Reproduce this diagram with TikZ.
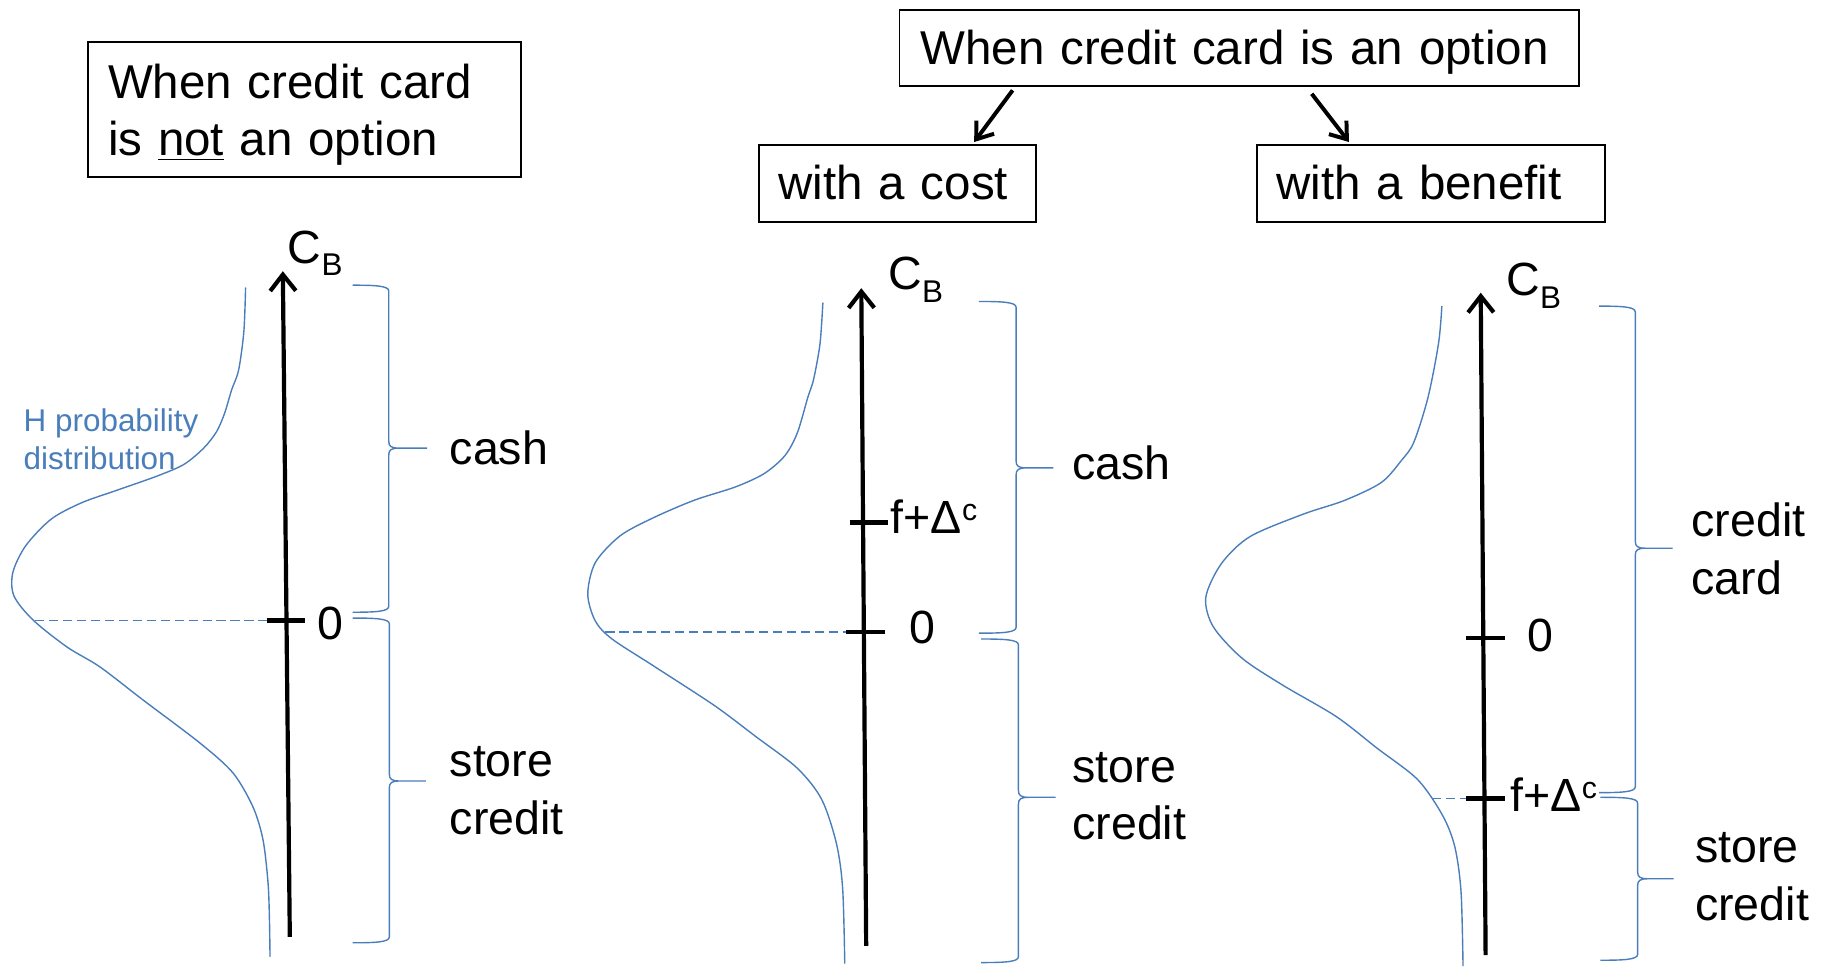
\documentclass[tikz,border=0pt]{standalone}
\usepackage{fontspec}
\setmainfont{Liberation Sans}
\usetikzlibrary{arrows.meta}
\definecolor{cblue}{RGB}{74,126,187}
\newcommand\cbr[6]{%
\draw[bluel] (#1,#4) .. controls ({#2-12},#4) and (#2,{#4+0.5}) .. (#2,{#4+5})
 -- (#2,{#5-6}) .. controls (#2,{#5-1.5}) and ({#2+2},#5) .. ({#2+9},#5) -- (#3,#5)
 (#3,#5) -- ({#2+9},#5) .. controls ({#2+2},#5) and (#2,{#5+1.5}) .. (#2,{#5+6})
 -- (#2,{#6-5}) .. controls (#2,{#6-0.5}) and ({#2-12},#6) .. (#1,#6);}
\newcommand\subB{\raisebox{-5.5pt}{\fontsize{13.5}{15}\selectfont B}}
\newcommand\supc{\raisebox{5.5pt}{\fontsize{13}{15}\selectfont c}}
\begin{document}
\begin{tikzpicture}[x=0.5pt,y=-0.5pt,
  lbl/.style={anchor=base west,inner sep=0pt,font=\fontsize{20}{24}\selectfont},
  hlbl/.style={anchor=base west,inner sep=0pt,text=cblue,font=\fontsize{13.5}{16}\selectfont},
  hbox/.style={draw,line width=0.8pt,anchor=north west,inner ysep=0pt,align=left,font=\fontsize{20.4}{24.5}\selectfont},
  bluel/.style={cblue,line width=0.6pt},
  dashblue/.style={cblue,line width=0.55pt,dash pattern=on 4pt off 2pt},
  axisline/.style={line width=1.8pt,-{Straight Barb[length=7pt,width=11pt]}},
  tickmark/.style={line width=2pt},
  arr/.style={line width=1.7pt,-{Straight Barb[length=6.5pt,width=9.5pt]}}
]
\useasboundingbox (0,0) rectangle (1568,832);

% top boxes
\node[hbox,inner xsep=8.5pt,text width=169pt,text height=24.4pt,text depth=33.6pt] (nobox) at (75,35) {When credit card\\is \underline{not} an option};
\node[hbox,inner xsep=9pt,text width=274pt,text height=23.5pt,text depth=9pt] (opt) at (772,8) {When credit card is an option};
\node[hbox,inner xsep=8.5pt,text width=102pt,text height=23.5pt,text depth=9.5pt] (cost) at (651,124) {with a cost};
\node[hbox,inner xsep=8.5pt,text width=132.5pt,text height=23.5pt,text depth=9.5pt] (benefit) at (1079,124) {with a benefit};
\draw[arr] ([shift={(98,3)}]opt.south west) -- ([shift={(186,-2)}]cost.north west);
\draw[arr] ([shift={(355,6)}]opt.south west) -- ([shift={(80,-2)}]benefit.north west);

% ---------- panel 1
\draw[bluel] plot[smooth,tension=0.5] coordinates {(211,247) (209.5,285) (205,318) (199,335) (193,355) (186,371) (175,385) (158,399) (135,409) (101,421) (70,432) (44,446) (22,469) (11,492) (12,512) (28.4,532.7) (57.6,555.9) (85.9,573) (122.9,601.4) (171.8,638.4) (200.2,664.1) (217.4,693.4) (226,721.7) (230.3,758.6) (231.5,790) (232,822)};
\draw[dashblue] (30,533) -- (229,533);
\coordinate (ax1b) at (249,805);
\coordinate (ax1t) at (243,233);
\draw[axisline] (ax1b) -- (ax1t);
\draw[tickmark] (229,533) -- (262,533);
\node[lbl] (cb1) at (247,226) {C\subB};
\node[lbl] (z1) at (272,549) {0};
\cbr{303}{334}{367}{245}{385}{526}
\cbr{303}{334.5}{366}{531}{671}{810}
\node[lbl] (cash1) at (386,399) {cash};
\node[lbl] (st1) at (386,667) {store};
\node[lbl] (cr1) at (386,717) {credit};
\node[hlbl] (hp) at (20,371) {H probability};
\node[hlbl] (hd) at (20,403) {distribution};

% ---------- panel 2
\draw[bluel] plot[smooth,tension=0.5] coordinates {(707,260) (704.5,295.5) (699,326) (694,341.6) (685,372) (674.4,391.4) (656.7,406.8) (632,418.3) (596.4,429.8) (561,445) (532.6,460.5) (511.4,483.5) (505,510.4) (511.4,533.4) (525.6,548.8) (561,571.8) (614,606.3) (649.6,633) (685,660) (706,686.9) (718.7,725) (724,763.6) (725.8,828)};
\draw[dashblue] (520,543) -- (727,543);
\coordinate (ax2b) at (744.2,812.7);
\coordinate (ax2t) at (740,247.6);
\draw[axisline] (ax2b) -- (ax2t);
\draw[tickmark] (730,449) -- (763,449);
\draw[tickmark] (727,543) -- (760,543);
\node[lbl] (cb2) at (763,249) {C\subB};
\node[lbl] (f2) at (765,458.6) {f+Δ\supc};
\node[lbl] (z2) at (781,553) {0};
\cbr{841}{873}{905}{259}{402}{544}
\cbr{843}{875}{907}{549}{685}{827}
\node[lbl] (cash2) at (921,412) {cash};
\node[lbl] (st2) at (921,672) {store};
\node[lbl] (cr2) at (921,721) {credit};

% ---------- panel 3
\draw[bluel] plot[smooth,tension=0.5] coordinates {(1238.8,263) (1236,294.6) (1227,341) (1214.8,379.8) (1204.3,395.3) (1186.7,414.6) (1155,430) (1119.8,441.7) (1074,461) (1049.4,484.2) (1036,513.2) (1042.3,538.3) (1067,565.4) (1102,588.6) (1148,615.6) (1183,642.7) (1218,669.8) (1239.5,700.7) (1250,727.8) (1255.3,766.4) (1257,830)};
\draw[dashblue] (1230,686) -- (1259.5,686);
\coordinate (ax3b) at (1276.4,820.6);
\coordinate (ax3t) at (1272.2,251.5);
\draw[axisline] (ax3b) -- (ax3t);
\draw[tickmark] (1259.5,548) -- (1293,548);
\draw[tickmark] (1259.5,686) -- (1293,686);
\node[lbl] (cb3) at (1294,254) {C\subB};
\node[lbl] (z3) at (1311.6,559.5) {0};
\node[lbl] (f3) at (1297.5,697) {f+Δ\supc};
\cbr{1374}{1405}{1437}{263}{471}{681}
\cbr{1375}{1407}{1438}{685}{755}{825}
\node[lbl] (cc1) at (1453,461) {credit};
\node[lbl] (cc2) at (1453,511) {card};
\node[lbl] (st3) at (1456,741) {store};
\node[lbl] (cr3) at (1456,791) {credit};
\end{tikzpicture}
\end{document}
